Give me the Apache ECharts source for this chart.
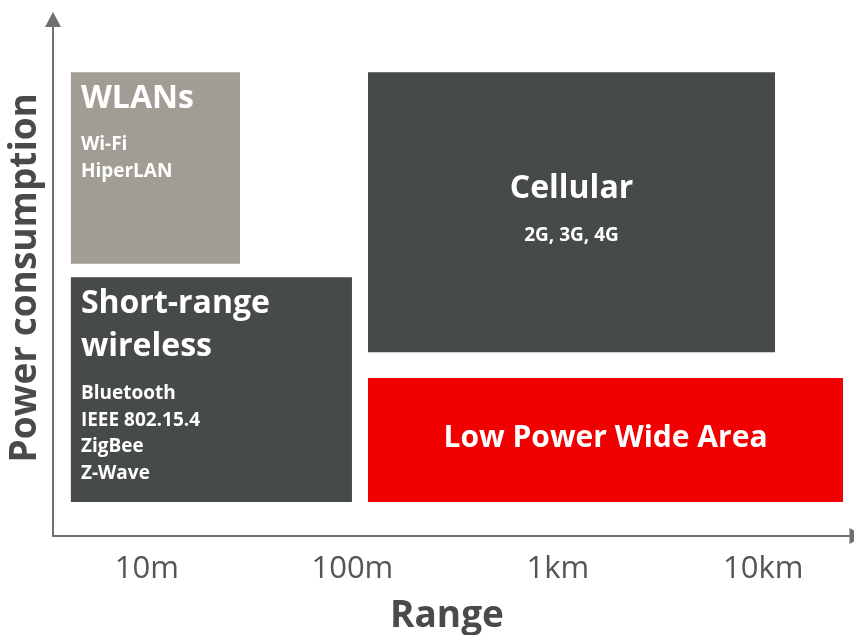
<!DOCTYPE html>
<html>
<head>
<meta charset="utf-8">
<title>Power consumption vs range</title>
<script src="https://cdn.jsdelivr.net/npm/echarts@6/dist/echarts.min.js"></script>
<style>
  html, body { margin: 0; padding: 0; background: #ffffff; }
  #chart { width: 854px; height: 635px; }
</style>
</head>
<body>
<div id="chart"></div>
<script>
// Range ticks sit at log10(metres): 1 = 10m, 2 = 100m, 3 = 1km, 4 = 10km
const rangeTicks = [1, 2, 3, 4];
const rangeLabels = ['10m', '100m', '1km', '10km'];

// Technology families (range spans in log10 metres, power in relative units 0-100)
const families = ['WLANs', 'Short-range\nwireless', 'Cellular', 'Low Power Wide Area'];
const members = ['Wi-Fi\nHiperLAN', 'Bluetooth\nIEEE 802.15.4\nZigBee\nZ-Wave', '2G, 3G, 4G', ''];
const rangeFrom = [0.63, 0.63, 2.076, 2.076];
const rangeTo = [1.453, 1.998, 4.057, 4.388];
const powerFrom = [52.7, 6.6, 35.6, 6.6];
const powerTo = [89.8, 50.1, 89.8, 30.6];

// Box fills
const boxFill = ['#a29d94', '#464a4b', '#464a4b', '#f20000'];

const FONT = '"Open Sans", "DejaVu Sans", sans-serif';

const chart = echarts.init(document.getElementById('chart'), null, { renderer: 'canvas' });

const boxData = families.map((f, i) => [rangeFrom[i], rangeTo[i], powerFrom[i], powerTo[i]]);

function renderBox(params, api) {
  const i = params.dataIndex;
  const tl = api.coord([api.value(0), api.value(3)]);
  const br = api.coord([api.value(1), api.value(2)]);
  const x = tl[0], y = tl[1];
  const w = br[0] - tl[0], h = br[1] - tl[1];
  const children = [{
    type: 'rect',
    shape: { x: x, y: y, width: w, height: h },
    style: { fill: boxFill[i] }
  }];
  const titleStyle = { fill: '#ffffff', font: 'bold 32px ' + FONT };
  const itemStyle = { fill: '#ffffff', font: 'bold 19px ' + FONT };

  if (i === 0 || i === 1) {
    // left-aligned heading, then the member list
    const titleLH = 43.5;
    children.push({
      type: 'text',
      style: Object.assign({}, titleStyle, {
        text: families[i], x: x + 10, y: y + 26.5 - titleLH / 2,
        align: 'left', verticalAlign: 'top', lineHeight: titleLH
      })
    });
    const firstItem = i === 0 ? 72 : 116.3;
    const itemLH = i === 0 ? 27.5 : 26.7;
    children.push({
      type: 'text',
      style: Object.assign({}, itemStyle, {
        text: members[i], x: x + 10, y: y + firstItem - itemLH / 2,
        align: 'left', verticalAlign: 'top', lineHeight: itemLH
      })
    });
  } else if (i === 2) {
    children.push({
      type: 'text',
      style: Object.assign({}, titleStyle, {
        text: families[i], x: x + w / 2, y: y + 117,
        align: 'center', verticalAlign: 'middle'
      })
    });
    children.push({
      type: 'text',
      style: Object.assign({}, itemStyle, {
        text: members[i], x: x + w / 2, y: y + 163,
        align: 'center', verticalAlign: 'middle'
      })
    });
  } else {
    children.push({
      type: 'text',
      style: Object.assign({}, titleStyle, {
        font: 'bold 30px ' + FONT,
        text: families[i], x: x + w / 2, y: y + h / 2 - 1,
        align: 'center', verticalAlign: 'middle'
      })
    });
  }
  return { type: 'group', children: children };
}

const axisLineStyle = { color: '#707070', width: 2 };

chart.setOption({
  backgroundColor: '#ffffff',
  animation: false,
  grid: {
    left: 53, right: -3, top: 19.5, bottom: 99,
    containLabel: false,
    outerBoundsMode: 'none'
  },
  xAxis: {
    type: 'value',
    min: 0.543,
    max: 4.456,
    name: 'Range',
    nameLocation: 'middle',
    nameGap: 62,
    nameTextStyle: {
      fontFamily: FONT, fontWeight: 'bold', fontSize: 37, color: '#4a4a4a',
      padding: [0, 16, 0, 0]
    },
    axisLine: {
      show: true,
      symbol: ['none', 'triangle'],
      symbolSize: [16, 15],
      lineStyle: axisLineStyle
    },
    axisTick: { show: false },
    splitLine: { show: false },
    axisLabel: {
      customValues: rangeTicks,
      formatter: v => rangeLabels[rangeTicks.indexOf(Math.round(v))] || '',
      fontFamily: FONT,
      fontSize: 31,
      color: '#555555',
      margin: 18
    }
  },
  yAxis: {
    type: 'value',
    min: 0,
    max: 100,
    name: 'Power consumption',
    nameLocation: 'middle',
    nameRotate: 90,
    nameGap: 9,
    nameTextStyle: {
      fontFamily: FONT, fontWeight: 'bold', fontSize: 37, color: '#4a4a4a'
    },
    axisLine: {
      show: true,
      symbol: ['none', 'triangle'],
      symbolSize: [16, 15],
      lineStyle: axisLineStyle
    },
    axisTick: { show: false },
    axisLabel: { show: false },
    splitLine: { show: false }
  },
  series: [{
    type: 'custom',
    renderItem: renderBox,
    encode: { x: [0, 1], y: [2, 3] },
    data: boxData
  }]
});
</script>
</body>
</html>
